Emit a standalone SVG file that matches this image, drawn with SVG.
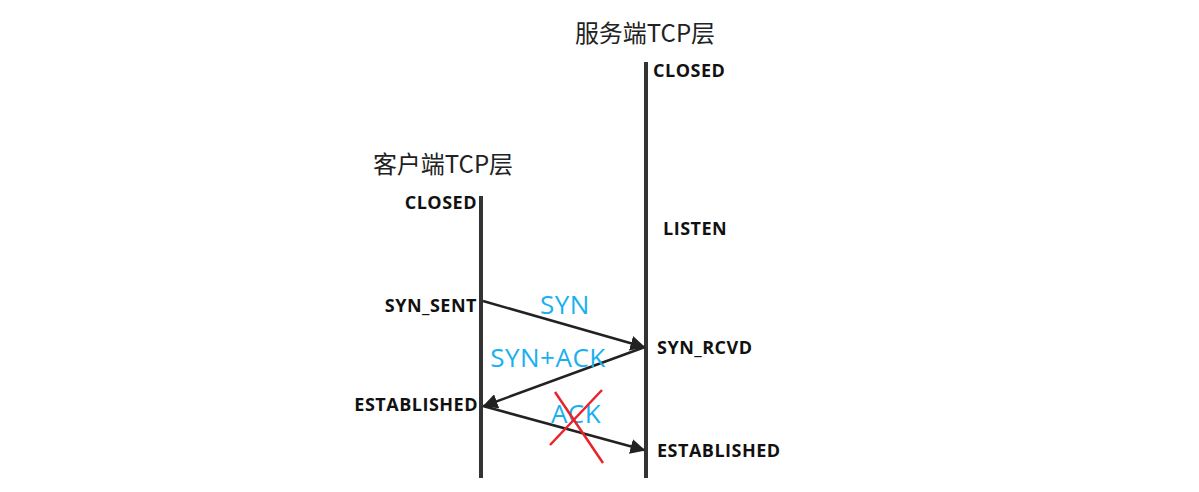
<svg xmlns="http://www.w3.org/2000/svg" width="1199" height="492" viewBox="0 0 1199 492">
<style>
.title{font-family:"Noto Sans CJK SC","Noto Sans",sans-serif;font-size:24px;fill:#222}
.st{font-family:"Open Sans","Noto Sans",sans-serif;font-weight:bold;font-size:18px;letter-spacing:0.5px;fill:#111}
.msg{font-family:"Open Sans","Noto Sans",sans-serif;font-size:26px;letter-spacing:0.5px;fill:#1ab0ef}
.life{stroke:#333;stroke-width:4}
.arr{stroke:#222;stroke-width:2.5;fill:none;marker-end:url(#ah)}
.x{stroke:#e8232a;stroke-width:2.5}
</style>
<defs>
<marker id="ah" viewBox="0 0 10 10" refX="9" refY="5" markerWidth="6" markerHeight="6" orient="auto" markerUnits="strokeWidth">
<path d="M0,0 L10,5 L0,10 z" fill="#222"/>
</marker>
</defs>
<rect width="1199" height="492" fill="#fff"/>
<g id="server">
<text class="title" x="645" y="42" text-anchor="middle">服务端TCP层</text>
<line class="life" x1="646" y1="62" x2="646" y2="478"/>
<text class="st" x="653" y="77">CLOSED</text>
<text class="st" x="663" y="235">LISTEN</text>
<text class="st" x="657" y="354">SYN_RCVD</text>
<text class="st" x="657" y="457">ESTABLISHED</text>
</g>
<g id="client">
<text class="title" x="443" y="173" text-anchor="middle">客户端TCP层</text>
<line class="life" x1="481" y1="196" x2="481" y2="478"/>
<text class="st" x="477" y="209" text-anchor="end">CLOSED</text>
<text class="st" x="477" y="312" text-anchor="end">SYN_SENT</text>
<text class="st" x="478" y="411" text-anchor="end">ESTABLISHED</text>
</g>
<g id="connectors">
<line class="arr" x1="483" y1="301" x2="644" y2="347"/>
<line class="arr" x1="645" y1="347" x2="484" y2="406"/>
<line class="arr" x1="483" y1="406" x2="644" y2="450"/>
</g>
<g id="labels">
<text class="msg" x="565" y="314" text-anchor="middle">SYN</text>
<text class="msg" x="548" y="367" text-anchor="middle">SYN+ACK</text>
<text class="msg" x="576" y="423" text-anchor="middle">ACK</text>
<line class="x" x1="602" y1="390" x2="550" y2="445"/>
<line class="x" x1="555" y1="392" x2="603" y2="463"/>
</g>
</svg>
